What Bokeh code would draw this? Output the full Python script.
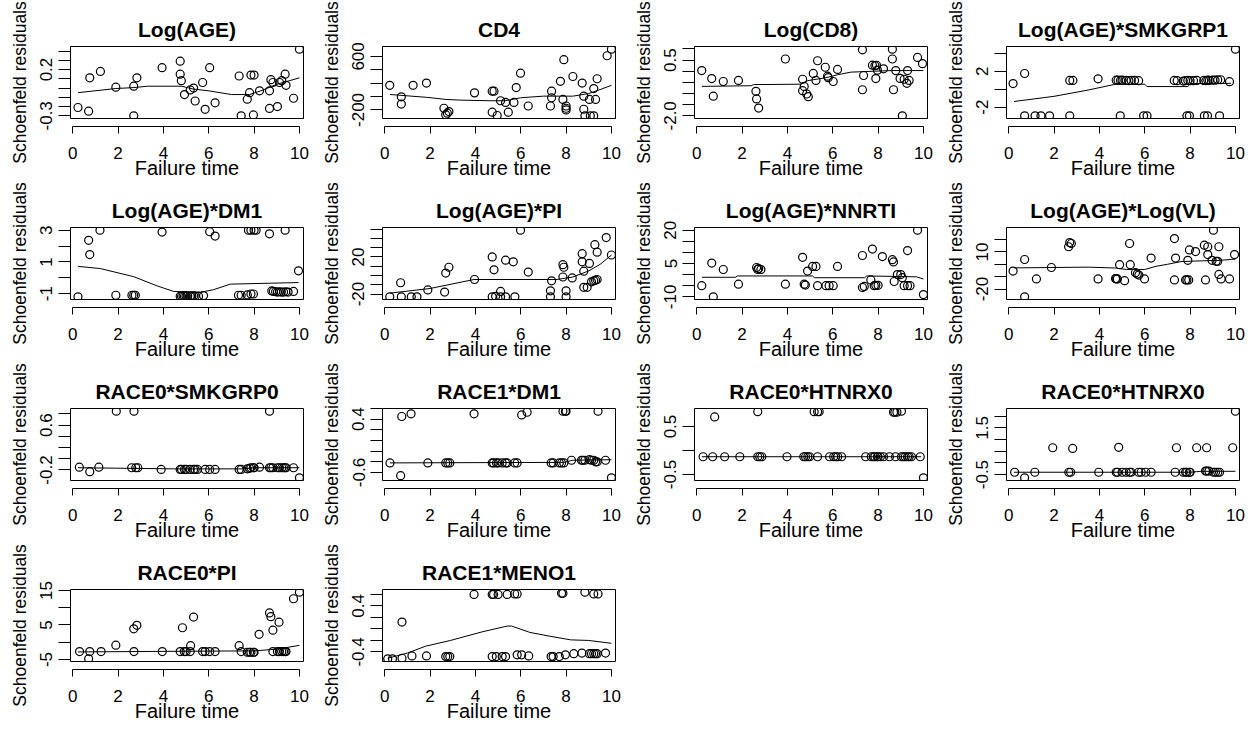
from bokeh.plotting import figure
from bokeh.models import LinearAxis, FixedTicker, Range1d
from bokeh.layouts import gridplot
from bokeh.embed import file_html
from bokeh.resources import INLINE

# ---------------------------------------------------------------------------
# Scaled Schoenfeld residuals against failure time, one panel per covariate.
# *_T: failure times, *_R: residuals, *_FT / *_FR: smoothed trend,
# *_TICKS: y tick positions, *_LABELS: the y tick labels that are printed.
# ---------------------------------------------------------------------------
X_TICKS = [0, 2, 4, 6, 8, 10]
X_LABEL = "Failure time"
Y_LABEL = "Schoenfeld residuals"

LOGAGE_T = [0.23, 0.7, 0.75, 1.22, 1.9, 2.69, 2.69, 2.83, 3.94, 4.74, 4.74, 4.79, 4.93, 5.18, 5.33,
            5.4, 5.73, 5.84, 6.04, 6.28, 7.34, 7.43, 7.7, 7.8, 7.86, 8.0, 7.97, 8.24, 8.68, 8.68,
            8.74, 8.83, 9.03, 9.12, 9.22, 9.37, 9.41, 9.74, 10.0]
LOGAGE_R = [-0.21, -0.25, 0.11, 0.18, 0.01, 0.02, -0.30, 0.11, 0.22, 0.29, 0.15, 0.08, -0.07, -0.02, 0.0,
            -0.14, 0.06, -0.23, 0.22, -0.16, 0.13, -0.30, -0.12, -0.05, 0.14, 0.14, -0.29, -0.03, -0.03, -0.22,
            0.09, 0.06, -0.20, 0.06, 0.08, 0.15, 0.03, -0.11, 0.42]
LOGAGE_FT = [0.23, 1.9, 2.7, 3.3, 4.8, 5.3, 6.0, 7.0, 7.8, 8.3, 9.0, 10.0]
LOGAGE_FR = [-0.05, -0.005, 0.005, 0.02, 0.02, -0.01, -0.03, -0.07, -0.07, -0.03, 0.04, 0.11]
LOGAGE_TICKS = [-0.3, -0.2, -0.1, 0.0, 0.1, 0.2, 0.3, 0.4]
LOGAGE_LABELS = ["-0.3", "0.2"]

CD4_T = [0.22, 0.73, 0.73, 1.25, 1.84, 2.61, 2.76, 2.83, 2.69, 3.96, 4.74, 4.82, 4.74, 4.96, 5.11,
         5.33, 5.45, 5.70, 5.80, 5.99, 6.33, 7.36, 7.36, 7.31, 7.75, 7.90, 7.86, 8.0, 8.0, 8.0,
         8.30, 8.71, 8.78, 8.78, 8.83, 9.03, 9.07, 9.22, 9.30, 9.22, 9.37, 9.81, 10.0]
CD4_R = [168, -4, -112, 168, 202, -175, -249, -225, -270, 55, 80, 80, -234, -283, -63,
         -87, -234, -87, 134, 350, -141, 80, -18, -141, 227, 551, -43, -141, -175, -200,
         300, 202, 6, -190, -288, -43, -288, -288, -43, 119, 266, 610, 708]
CD4_FT = [0.23, 1.9, 2.7, 3.3, 4.7, 5.3, 6.0, 7.0, 7.8, 8.3, 9.0, 9.5, 10.0]
CD4_FR = [31, -13, -43, -53, -63, -63, -18, 6, 6, 6, 45, 104, 168]
CD4_TICKS = [-200, 0, 200, 400, 600]
CD4_LABELS = ["-200", "600"]

LOGCD8_T = [0.22, 0.66, 0.73, 1.17, 1.84, 2.61, 2.64, 2.73, 3.91, 4.67, 4.67, 4.74, 4.85, 4.92, 5.14,
            5.26, 5.33, 5.67, 5.77, 5.80, 6.02, 6.21, 7.31, 7.36, 7.31, 7.75, 7.86, 7.93, 7.90, 7.97,
            8.24, 8.63, 8.63, 8.68, 8.78, 8.97, 9.07, 9.15, 9.30, 9.27, 9.37, 9.74, 9.96]
LOGCD8_R = [0.03, -0.33, -1.12, -0.46, -0.41, -0.9, -1.24, -1.65, 0.55, -0.36, -0.87, -0.68, -1.02, -1.14, -0.1,
            -0.41, 0.47, 0.18, -0.22, -0.29, -0.46, 0.08, 0.96, -0.19, -0.83, 0.27, 0.25, 0.27, -0.33, 0.05,
            0.11, 0.99, 0.55, -0.83, 0.03, -0.32, -2.0, -0.36, 0.03, -0.54, -0.41, 0.62, 0.34]
LOGCD8_FT = [0.23, 2.4, 2.5, 4.6, 4.9, 5.7, 6.2, 6.8, 7.8, 8.6, 10.0]
LOGCD8_FR = [-0.68, -0.65, -0.6, -0.58, -0.42, -0.29, -0.16, -0.04, 0.0, 0.03, 0.03]
LOGCD8_TICKS = [-2.0, -1.5, -1.0, -0.5, 0.0, 0.5, 1.0]
LOGCD8_LABELS = ["-2.0", "0.5"]

SMK1_T = [0.19, 0.7, 2.69, 2.83, 3.94, 4.74, 4.82, 4.93, 5.0, 5.18, 5.3, 5.4, 5.55, 5.73,
          7.3, 7.43, 7.7, 7.8, 7.9, 8.0, 8.15, 8.3, 8.6, 8.7, 8.78, 8.85, 9.0, 9.1, 9.22, 9.35,
          9.74, 10.0,
          0.7, 1.16, 1.42, 1.8, 2.69, 4.92, 5.95, 6.1, 7.86, 7.97, 8.63, 8.77, 9.3]
SMK1_R = [0.62, 1.75, 0.98, 0.98, 1.16, 1.0, 1.0, 0.98, 1.0, 0.98, 0.95, 0.98, 0.98, 0.95,
          0.98, 0.95, 0.9, 0.95, 0.98, 0.95, 0.95, 0.98, 0.98, 0.95, 1.0, 0.98, 1.02, 1.0, 1.05, 1.05,
          0.84, 4.47,
          -2.98, -2.98, -2.98, -2.98, -2.98, -2.98, -2.98, -2.98, -2.98, -2.98, -2.98, -2.98, -2.98]
SMK1_FT = [0.23, 2.0, 3.5, 4.7, 6.0, 6.1, 7.9, 8.0, 9.8]
SMK1_FR = [-1.38, -0.8, -0.1, 0.55, 0.55, 0.29, 0.29, 0.62, 0.65]
SMK1_TICKS = [-2, 0, 2, 4]
SMK1_LABELS = ["-2", "2"]

DM1_T = [0.23, 0.7, 0.75, 1.2, 1.9, 2.61, 2.69, 2.76, 3.94,
         4.74, 4.8, 4.87, 4.93, 5.0, 5.07, 5.18, 5.25, 5.33, 5.4, 5.55, 5.77,
         6.04, 6.28, 7.31, 7.43, 7.7, 7.86, 7.97, 7.75, 7.86, 8.0, 8.09, 8.68,
         8.78, 8.85, 8.95, 9.03, 9.12, 9.2, 9.3, 9.4, 9.5, 9.37, 9.74, 9.96]
DM1_R = [-1.2, 2.36, 1.46, 3.0, -1.1, -1.1, -1.1, -1.1, 2.88,
         -1.16, -1.16, -1.14, -1.16, -1.16, -1.14, -1.16, -1.16, -1.14, -1.16, -1.16, -1.12,
         2.9, 2.63, -1.1, -1.1, -1.08, -1.02, -1.02, 3.0, 3.0, 3.0, 3.0, 2.77,
         -0.83, -0.85, -0.88, -0.9, -0.88, -0.9, -0.9, -0.88, -0.9, 3.0, -0.86, 0.44]
DM1_FT = [0.23, 1.22, 2.69, 3.72, 4.45, 5.62, 6.21, 6.95, 9.96]
DM1_FR = [0.72, 0.58, 0.07, -0.51, -0.86, -0.92, -0.75, -0.4, -0.3]
DM1_TICKS = [-1, 0, 1, 2, 3]
DM1_LABELS = ["-1", "1", "3"]

PI_T = [0.22, 0.73, 1.17, 1.42, 4.74, 4.89, 5.11, 5.33, 5.74, 7.31, 8.0,
        0.7, 1.9, 2.64, 2.69, 2.83, 3.96, 4.74, 4.82, 5.11, 5.33, 5.67, 5.99, 6.33,
        7.36, 7.31, 7.86, 7.9, 8.0, 7.86, 8.27, 8.71, 8.71, 8.78, 8.78, 8.93, 9.03,
        9.12, 9.22, 9.3, 9.37, 9.27, 9.37, 9.77, 10.0]
PI_R = [-23, -23, -23, -23, -23, -22.4, -23, -23, -23, -23, -23,
        -7.8, -15.5, -17.9, 2.6, 8.9, -4.3, 20, 6.1, -17.2, 16.5, 14.8, 48.9, 3.7,
        -5.7, -16.5, 11.7, 8.9, -16.5, -1.6, -2.6, 23.5, 14.8, 4.7, -12.7, -12.7, 13.0,
        -6.8, -5.7, -5.0, -4.3, 33.2, 25.2, 40.9, 22.1]
PI_FT = [0.23, 2.0, 3.94, 7.6, 8.3, 9.0, 9.5, 10.0]
PI_FR = [-19, -14, -4.3, -4.3, -1.6, 5, 12, 22]
PI_TICKS = [-20, -10, 0, 10, 20, 30, 40, 50]
PI_LABELS = ["-20", "20"]

NNRTI_T = [0.22, 0.66, 0.73, 1.17, 1.84, 2.64, 2.69, 2.73, 2.83, 3.91, 4.67, 4.74, 4.79, 4.89,
           5.11, 5.26, 5.33, 5.70, 5.84, 6.02, 6.21, 7.31, 7.31, 7.39, 7.68, 7.75, 7.83, 7.9,
           8.0, 8.19, 8.63, 8.68, 8.71, 8.85, 9.0, 9.07, 9.15, 9.30, 9.41, 9.30, 9.74, 10.0]
NNRTI_R = [-5.0, 5.2, -10, 2.3, -4.3, 3.2, 2.3, 2.7, 2.3, -4.3, 7.8, -4.3, -4.7, 1.6,
           3.7, 3.7, -5.0, -5.0, -5.0, -5.0, 3.7, 8.6, -5.8, -5.3, -2.4, 11.5, -5.0, -4.8,
           -4.8, 8.1, 6.7, 5.7, -3.1, 0.0, 0.0, -1.4, -5.0, -5.0, -5.0, 10.8, 20.0, -9.0]
NNRTI_FT = [0.23, 1.7, 1.8, 5.1, 5.2, 7.4, 7.5, 9.7, 10.0]
NNRTI_FR = [-1.2, -1.2, -0.6, -0.6, -1.4, -1.4, -0.6, -1.0, -2.0]
NNRTI_TICKS = [-10, -5, 0, 5, 10, 15, 20]
NNRTI_LABELS = ["-10", "5", "20"]

VL_T = [0.19, 0.70, 0.70, 1.22, 1.88, 2.64, 2.69, 2.76, 3.94, 4.71, 4.74, 4.79, 4.89, 5.11,
        5.33, 5.36, 5.59, 5.67, 5.74, 5.99, 6.28, 7.31, 7.36, 7.31, 7.8, 7.86, 7.94, 7.9,
        7.97, 8.24, 8.63, 8.78, 8.68, 8.78, 8.97, 9.03, 9.15, 9.22, 9.27, 9.27, 9.37, 9.74, 9.96]
VL_R = [-5.5, 3.9, -26.3, -11.8, -2.6, 14.2, 17.6, 16.8, -11.8, -11.5, -11.8, -11.8, -0.3, -13.2,
        16.8, -0.3, -6.8, -7.9, -8.7, -11.8, 5.0, 20.8, 5.0, -12.6, -12.6, -12.6, -12.6, 3.2,
        11.6, 10.3, 15.5, 14.2, -12.6, 7.9, 3.2, 27.6, 2.4, 2.4, 14.2, -8.2, -11.8, -11.8, 7.9]
VL_FT = [0.23, 3.5, 4.7, 5.2, 6.0, 6.5, 7.0, 7.6, 8.5, 9.3, 10.0]
VL_FR = [-2.9, -2.3, -3.0, -4.2, -4.2, -1.6, 0.0, 2.2, 2.8, 3.2, 4.2]
VL_TICKS = [-20, -10, 0, 10, 20]
VL_LABELS = ["-20", "10"]

SMK0_T = [0.29, 0.75, 1.15, 2.6, 2.78, 2.87, 3.9, 4.74, 4.8, 4.93, 5.0, 5.18, 5.33, 5.4, 5.5,
          5.84, 6.04, 6.28, 7.34, 7.43, 7.7, 7.8, 7.86, 7.97, 8.0, 8.24, 8.68, 8.74, 8.83,
          9.03, 9.12, 9.22, 9.3, 9.37, 9.41, 9.74, 1.92, 2.7, 8.68, 10.0]
SMK0_R = [-0.15, -0.23, -0.15, -0.16, -0.16, -0.16, -0.19, -0.19, -0.19, -0.19, -0.19, -0.19, -0.19, -0.19, -0.19,
          -0.19, -0.19, -0.19, -0.19, -0.19, -0.18, -0.17, -0.16, -0.16, -0.16, -0.15, -0.16, -0.16, -0.16,
          -0.16, -0.16, -0.16, -0.16, -0.16, -0.16, -0.16, 0.85, 0.85, 0.85, -0.34]
SMK0_FT = [0.23, 4.5, 7.5, 8.0, 10.0]
SMK0_FR = [-0.16, -0.18, -0.18, -0.16, -0.16]
SMK0_TICKS = [-0.2, 0.0, 0.2, 0.4, 0.6, 0.8]
SMK0_LABELS = ["-0.2", "0.6"]

R1DM1_T = [0.75, 1.16, 3.94, 6.04, 6.28, 7.86, 7.97, 8.0, 9.41,
           0.23, 1.9, 2.69, 2.78, 2.87, 4.74, 4.8, 4.93, 5.0, 5.18, 5.33, 5.4, 5.73, 5.84,
           7.34, 7.43, 7.7, 7.8, 7.9,
           8.24, 8.68, 8.74, 8.83, 9.03, 9.12, 9.22, 9.3, 9.37, 9.74, 0.7, 10.0]
R1DM1_R = [0.45, 0.5, 0.5, 0.48, 0.53, 0.55, 0.55, 0.55, 0.55,
           -0.42, -0.42, -0.42, -0.42, -0.42, -0.42, -0.42, -0.42, -0.42, -0.42, -0.42, -0.42, -0.42, -0.42,
           -0.42, -0.42, -0.42, -0.42, -0.42,
           -0.37, -0.37, -0.37, -0.37, -0.36, -0.37, -0.37, -0.4, -0.4, -0.37, -0.66, -0.7]
R1DM1_FT = [0.23, 7.9, 8.3, 10.0]
R1DM1_FR = [-0.42, -0.41, -0.37, -0.36]
R1DM1_TICKS = [-0.6, -0.4, -0.2, 0.0, 0.2, 0.4, 0.6]
R1DM1_LABELS = ["-0.6", "0.4"]

HTN_A_T = [0.79, 2.69, 5.18, 5.33, 5.4, 8.68, 8.74, 8.83, 9.03,
           0.28, 0.7, 1.23, 1.9, 2.69, 2.78, 2.87, 3.98, 4.72, 4.8, 4.9, 4.98, 5.33, 5.86, 6.04,
           6.13, 6.22, 6.39, 7.45, 7.7, 7.8, 7.86, 7.97, 8.0, 8.1, 8.24, 8.5, 8.77, 9.03, 9.12,
           9.2, 9.3, 9.37, 9.47, 9.86, 10.0]
HTN_A_R = [0.7, 0.81, 0.81, 0.81, 0.81, 0.8, 0.8, 0.8, 0.82,
           -0.13, -0.13, -0.13, -0.13, -0.13, -0.13, -0.13, -0.13, -0.13, -0.13, -0.13, -0.13, -0.13, -0.13, -0.13,
           -0.13, -0.13, -0.13, -0.13, -0.13, -0.13, -0.13, -0.13, -0.13, -0.13, -0.13, -0.13, -0.13, -0.13, -0.13,
           -0.13, -0.13, -0.13, -0.13, -0.13, -0.57]
HTN_A_FT = [0.23, 5.0, 9.9]
HTN_A_FR = [-0.13, -0.13, -0.13]
HTN_A_TICKS = [-0.5, 0.0, 0.5]
HTN_A_LABELS = ["-0.5", "0.5"]

HTN_B_T = [10.0, 1.94, 2.82, 4.85, 7.4, 8.29, 8.73, 9.88,
           0.26, 1.15, 2.65, 2.73, 3.97, 4.74, 4.8, 5.0, 5.18, 5.33, 5.4, 5.73, 5.84, 6.04, 6.28,
           7.34, 7.7, 7.8, 7.86, 7.97, 8.0, 9.03, 9.12, 9.22, 9.3, 8.68, 8.74, 8.83, 0.7]
HTN_B_R = [2.22, 0.65, 0.62, 0.67, 0.65, 0.65, 0.65, 0.65,
           -0.4, -0.4, -0.4, -0.4, -0.4, -0.4, -0.4, -0.4, -0.4, -0.4, -0.4, -0.4, -0.4, -0.4, -0.4,
           -0.4, -0.4, -0.4, -0.4, -0.4, -0.4, -0.4, -0.4, -0.4, -0.4, -0.35, -0.35, -0.35, -0.64]
HTN_B_FT = [0.23, 8.0, 8.5, 10.0]
HTN_B_FR = [-0.4, -0.4, -0.36, -0.36]
HTN_B_TICKS = [-0.5, 0.0, 0.5, 1.0, 1.5, 2.0]
HTN_B_LABELS = ["-0.5", "1.5"]

R0PI_T = [0.3, 0.75, 1.25, 2.7, 3.95, 4.74, 4.92, 5.0, 5.18, 5.73, 5.84, 6.04, 6.28, 7.43,
          7.7, 7.8, 7.86, 7.97, 8.0, 8.83, 9.03, 9.12, 9.22, 9.3, 9.37, 9.41,
          0.7, 1.9, 2.69, 2.83, 4.84, 5.2, 5.33, 7.34, 8.22, 8.68, 8.74, 8.83, 9.1, 9.74, 10.0]
R0PI_R = [-2.7, -2.7, -2.7, -2.7, -2.7, -2.7, -2.7, -2.7, -2.7, -2.7, -2.7, -2.7, -2.7, -2.7,
          -2.9, -2.9, -2.9, -2.9, -2.9, -2.7, -2.7, -2.7, -2.7, -2.7, -2.7, -2.7,
          -4.8, -0.85, 3.9, 4.9, 4.2, -1.0, 7.3, -1.0, 2.3, 8.5, 7.4, 3.5, 5.8, 12.6, 14.5]
R0PI_FT = [0.23, 5.0, 8.0, 9.0, 10.0]
R0PI_FR = [-2.8, -2.6, -2.5, -2.0, -0.9]
R0PI_TICKS = [-5, 0, 5, 10, 15]
R0PI_LABELS = ["-5", "5", "15"]

MENO_T = [0.13, 0.34, 0.76, 1.2, 1.84, 2.69, 2.78, 2.87, 4.74, 4.92, 5.18, 5.33, 5.84, 6.04,
          6.35, 7.34, 7.43, 7.7, 7.97, 8.34, 8.7, 9.03, 9.12, 9.22, 9.3, 9.37, 9.74,
          3.94, 4.74, 4.8, 5.0, 5.4, 5.73, 5.84, 7.8, 7.86, 8.83, 9.22, 9.41, 0.76]
MENO_R = [-0.52, -0.52, -0.51, -0.47, -0.47, -0.48, -0.48, -0.48, -0.48, -0.48, -0.48, -0.48, -0.45, -0.45,
          -0.47, -0.48, -0.48, -0.48, -0.45, -0.43, -0.42, -0.43, -0.43, -0.43, -0.43, -0.43, -0.42,
          0.6, 0.6, 0.6, 0.6, 0.6, 0.61, 0.61, 0.62, 0.62, 0.64, 0.61, 0.61, 0.12]
MENO_FT = [0.13, 1.0, 1.8, 2.9, 4.3, 5.4, 5.6, 6.4, 7.2, 8.2, 9.0, 10.0]
MENO_FR = [-0.51, -0.42, -0.3, -0.2, -0.05, 0.05, 0.05, -0.06, -0.12, -0.19, -0.2, -0.25]
MENO_TICKS = [-0.4, -0.2, 0.0, 0.2, 0.4, 0.6]
MENO_LABELS = ["-0.4", "0.4"]

PANELS = [
    ("Log(AGE)", LOGAGE_T, LOGAGE_R, LOGAGE_FT, LOGAGE_FR, LOGAGE_TICKS, LOGAGE_LABELS),
    ("CD4", CD4_T, CD4_R, CD4_FT, CD4_FR, CD4_TICKS, CD4_LABELS),
    ("Log(CD8)", LOGCD8_T, LOGCD8_R, LOGCD8_FT, LOGCD8_FR, LOGCD8_TICKS, LOGCD8_LABELS),
    ("Log(AGE)*SMKGRP1", SMK1_T, SMK1_R, SMK1_FT, SMK1_FR, SMK1_TICKS, SMK1_LABELS),
    ("Log(AGE)*DM1", DM1_T, DM1_R, DM1_FT, DM1_FR, DM1_TICKS, DM1_LABELS),
    ("Log(AGE)*PI", PI_T, PI_R, PI_FT, PI_FR, PI_TICKS, PI_LABELS),
    ("Log(AGE)*NNRTI", NNRTI_T, NNRTI_R, NNRTI_FT, NNRTI_FR, NNRTI_TICKS, NNRTI_LABELS),
    ("Log(AGE)*Log(VL)", VL_T, VL_R, VL_FT, VL_FR, VL_TICKS, VL_LABELS),
    ("RACE0*SMKGRP0", SMK0_T, SMK0_R, SMK0_FT, SMK0_FR, SMK0_TICKS, SMK0_LABELS),
    ("RACE1*DM1", R1DM1_T, R1DM1_R, R1DM1_FT, R1DM1_FR, R1DM1_TICKS, R1DM1_LABELS),
    ("RACE0*HTNRX0", HTN_A_T, HTN_A_R, HTN_A_FT, HTN_A_FR, HTN_A_TICKS, HTN_A_LABELS),
    ("RACE0*HTNRX0", HTN_B_T, HTN_B_R, HTN_B_FT, HTN_B_FR, HTN_B_TICKS, HTN_B_LABELS),
    ("RACE0*PI", R0PI_T, R0PI_R, R0PI_FT, R0PI_FR, R0PI_TICKS, R0PI_LABELS),
    ("RACE1*MENO1", MENO_T, MENO_R, MENO_FT, MENO_FR, MENO_TICKS, MENO_LABELS),
]

FONT = "Liberation Sans"


def residual_panel(title, t, r, ft, fr, ticks, labels):
    lo = min(min(r), min(fr))
    hi = max(max(r), max(fr))
    pad = 0.04 * (hi - lo)
    p = figure(width=312, height=181, output_backend="svg", toolbar_location=None,
               x_range=Range1d(-0.1, 10.18), y_range=Range1d(lo - pad, hi + pad),
               x_axis_location=None, y_axis_location=None,
               min_border_left=70, min_border_right=9, min_border_top=46, min_border_bottom=63,
               background_fill_color="white", border_fill_color="white",
               outline_line_color="black", outline_line_width=1, outline_line_alpha=1.0,
               title=title)
    p.title.align = "center"
    p.title.text_font = FONT
    p.title.text_font_size = "21px"
    p.title.text_font_style = "bold"
    p.title.text_color = "black"
    p.title.standoff = 12

    # y axis: every tick marked, only some of them labelled
    shown = [float(s) for s in labels]
    minor = [v for v in ticks if all(abs(v - s) > 1e-9 for s in shown)]
    yaxis = LinearAxis(ticker=FixedTicker(ticks=shown, minor_ticks=minor),
                       major_label_overrides={v: s for v, s in zip(shown, labels)},
                       major_label_orientation="vertical",
                       axis_line_color=None,
                       major_tick_in=0, major_tick_out=12, minor_tick_in=0, minor_tick_out=12,
                       major_tick_line_color="black", minor_tick_line_color="black",
                       major_label_standoff=6,
                       major_label_text_font=FONT, major_label_text_font_size="17px",
                       major_label_text_color="black",
                       axis_label=Y_LABEL, axis_label_standoff=8,
                       axis_label_text_font=FONT, axis_label_text_font_size="17.5px",
                       axis_label_text_font_style="normal", axis_label_text_color="black")
    p.add_layout(yaxis, "left")

    # thin empty band so the x axis sits a few pixels below the box
    gap = LinearAxis(ticker=FixedTicker(ticks=[]), axis_line_color=None,
                     major_tick_line_color=None, minor_tick_line_color=None,
                     major_tick_in=0, major_tick_out=0, minor_tick_in=0, minor_tick_out=0,
                     major_label_standoff=0, major_label_text_font_size="0px",
                     axis_label=" ", axis_label_standoff=0,
                     axis_label_text_font_size="4px", axis_label_text_color="white")
    xaxis = LinearAxis(ticker=FixedTicker(ticks=X_TICKS), bounds=(0, 10),
                       axis_line_color="black", major_tick_line_color="black",
                       minor_tick_line_color=None,
                       major_tick_in=0, major_tick_out=7,
                       major_label_standoff=13,
                       major_label_text_font=FONT, major_label_text_font_size="17px",
                       major_label_text_color="black",
                       axis_label=X_LABEL, axis_label_standoff=-5,
                       axis_label_text_font=FONT, axis_label_text_font_size="20px",
                       axis_label_text_font_style="normal", axis_label_text_color="black")
    p.add_layout(gap, "below")
    p.add_layout(xaxis, "below")
    p.grid.visible = False

    p.line(ft, fr, line_color="black", line_width=1)
    p.scatter(t, r, marker="circle", size=8, fill_color=None,
              line_color="black", line_width=1.2)
    return p


figs = [residual_panel(*spec) for spec in PANELS]
rows = [figs[0:4], figs[4:8], figs[8:12], figs[12:14] + [None, None]]
grid = gridplot(rows, toolbar_location=None)

open("out.html", "w").write(file_html(grid, INLINE))
